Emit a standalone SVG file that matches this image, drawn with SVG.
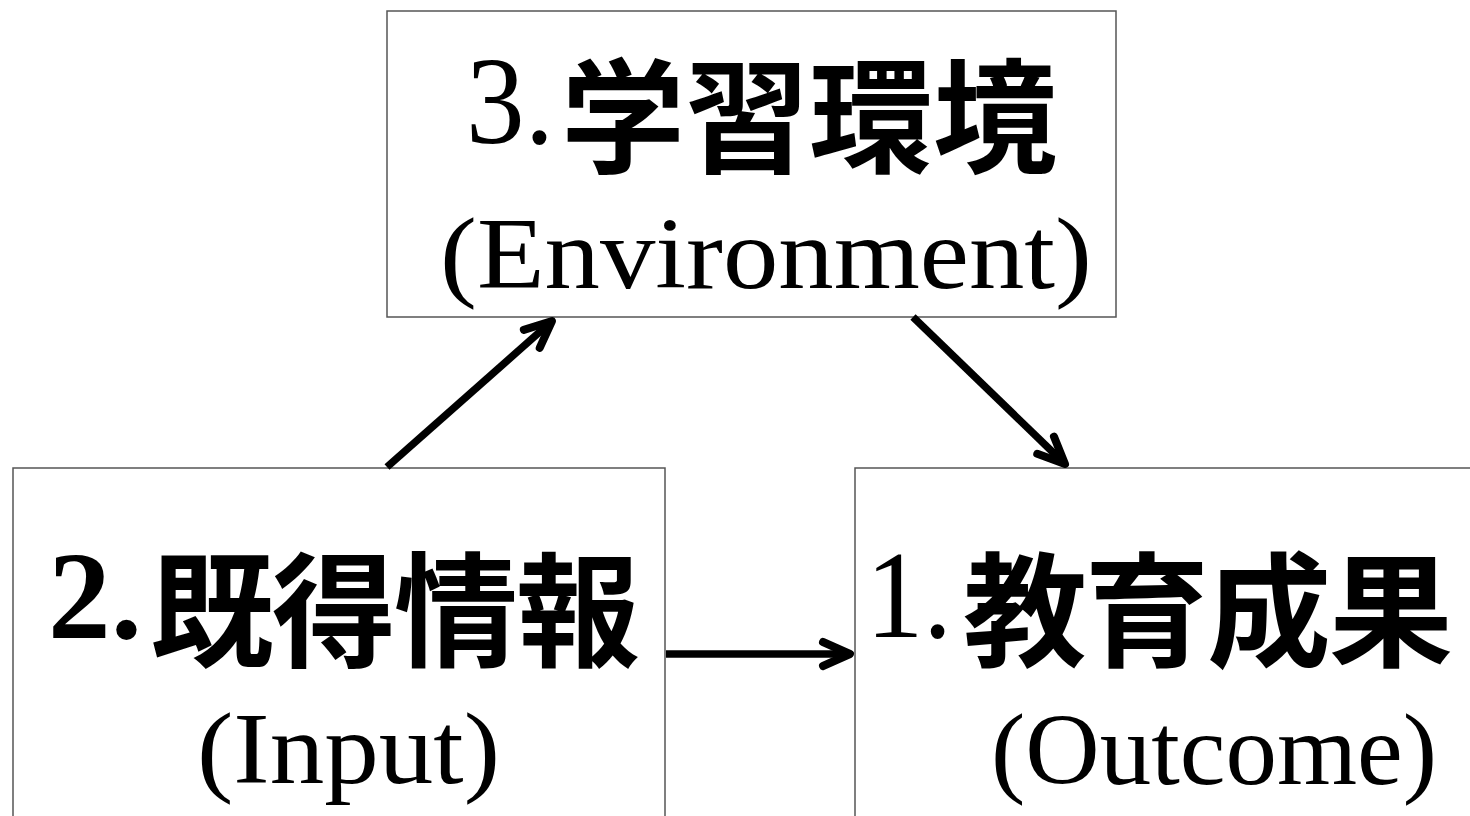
<svg xmlns="http://www.w3.org/2000/svg" width="1470" height="816" viewBox="0 0 1470 816">
<style>
.box{fill:#fff;stroke:#555;stroke-width:1.5}
.num{font-family:"Liberation Serif",serif;font-size:124px;fill:#000}
.kan{font-family:"Noto Sans CJK JP",sans-serif;font-weight:700;font-size:124px;fill:#000}
.en{font-family:"Liberation Serif",serif;font-size:102px;fill:#000}
.conn{stroke:#000;stroke-width:7.5;fill:none}
</style>
<defs>
<marker id="ah" markerUnits="userSpaceOnUse" markerWidth="60" markerHeight="60" viewBox="-40 -30 60 60" refX="0" refY="0" orient="auto" overflow="visible">
<path d="M-27,-12 L0,0 L-27,12" fill="none" stroke="#000" stroke-width="8" stroke-linecap="round" stroke-linejoin="round"/>
</marker>
</defs>
<rect width="1470" height="816" fill="#fff"/>
<g id="node-environment">
<rect class="box" x="387" y="11" width="729" height="306"/>
<text class="num" x="466" y="143" textLength="88" lengthAdjust="spacingAndGlyphs">3.</text>
<text class="kan" x="561" y="163" textLength="496">学習環境</text>
<text class="en" x="440" y="288" textLength="652" lengthAdjust="spacingAndGlyphs">(Environment)</text>
</g>
<g id="node-input">
<rect class="box" x="13" y="468" width="652" height="380"/>
<text class="num" x="48" y="638" font-weight="bold" textLength="94" lengthAdjust="spacingAndGlyphs">2.</text>
<text class="kan" x="150" y="657" textLength="490">既得情報</text>
<text class="en" x="197" y="783" textLength="303" lengthAdjust="spacingAndGlyphs">(Input)</text>
</g>
<g id="node-outcome">
<rect class="box" x="855" y="468" width="640" height="380"/>
<text class="num" x="866" y="637" textLength="86" lengthAdjust="spacingAndGlyphs">1.</text>
<text class="kan" x="963" y="657" textLength="490">教育成果</text>
<text class="en" x="991" y="784" textLength="446" lengthAdjust="spacingAndGlyphs">(Outcome)</text>
</g>
<g id="connectors">
<line class="conn" x1="387" y1="467" x2="552" y2="321" marker-end="url(#ah)"/>
<line class="conn" x1="913" y1="317" x2="1065" y2="464" marker-end="url(#ah)"/>
<line class="conn" x1="666" y1="654" x2="850" y2="654" marker-end="url(#ah)"/>
</g>
</svg>
